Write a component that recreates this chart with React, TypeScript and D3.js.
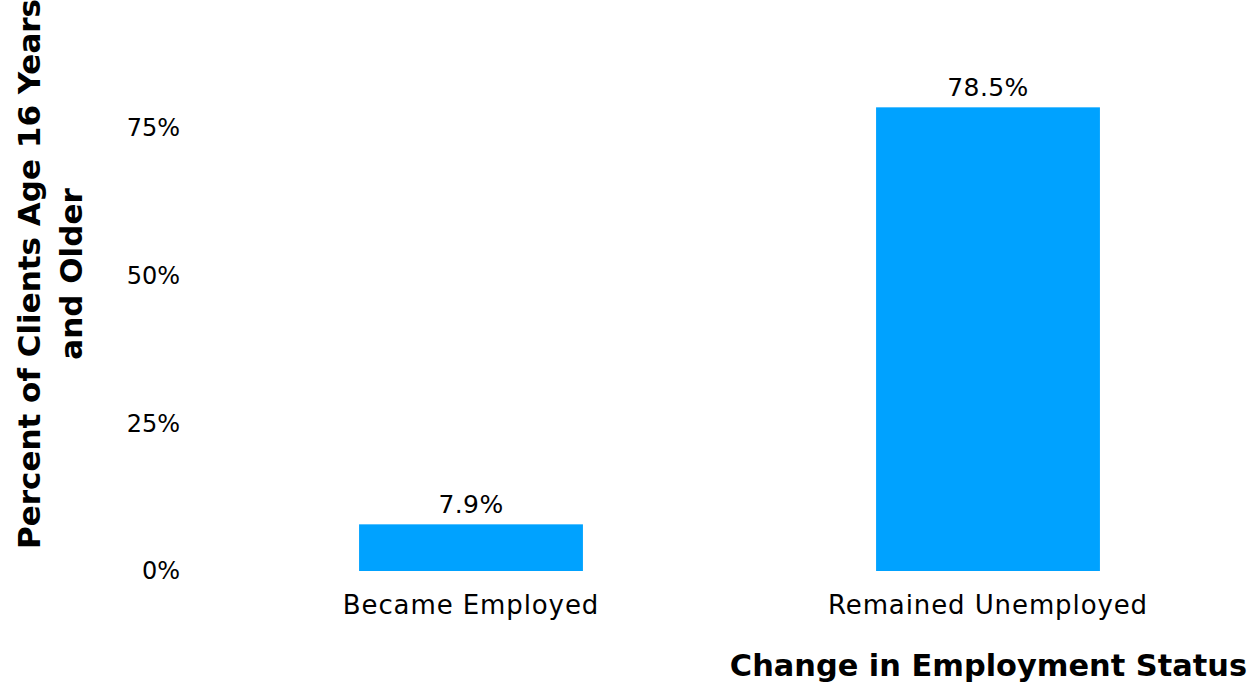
import React from "react";
import * as d3 from "d3";

const categories = ["Became Employed", "Remained Unemployed"];
const values = [7.9, 78.5];
const valueLabels = ["7.9%", "78.5%"];
const yTicks = [0, 25, 50, 75];
const yTickLabels = ["0%", "25%", "50%", "75%"];
const xTitle = "Change in Employment Status";
const yTitleLines = ["Percent of Clients Age 16 Years", "and Older"];

const W = 1249;
const H = 682;
const FONT = "'DejaVu Sans', Verdana, Tahoma, sans-serif";

export default function App() {
  const x = d3
    .scaleBand<string>()
    .domain(categories)
    .range([212.5, 1246.5])
    .paddingInner(0.567)
    .paddingOuter(0.2835);
  const y = d3.scaleLinear().domain([0, 75]).range([571, 128]);

  return (
    <svg
      width={W}
      height={H}
      style={{ position: "absolute", left: 0, top: 0, background: "#fff" }}
      fontFamily={FONT}
    >
      {categories.map((c, i) => (
        <rect
          key={c}
          x={x(c)}
          y={y(values[i])}
          width={x.bandwidth()}
          height={y(0) - y(values[i])}
          fill="#00A2FF"
        />
      ))}
      {categories.map((c, i) => (
        <text
          key={c + "v"}
          x={(x(c) as number) + x.bandwidth() / 2}
          y={y(values[i]) - 11}
          textAnchor="middle"
          fontSize={25}
          letterSpacing={0.4}
          fill="#000"
        >
          {valueLabels[i]}
        </text>
      ))}
      {categories.map((c) => (
        <text
          key={c + "c"}
          x={(x(c) as number) + x.bandwidth() / 2}
          y={614}
          textAnchor="middle"
          fontSize={26}
          letterSpacing={0.9}
          fill="#000"
        >
          {c}
        </text>
      ))}
      {yTicks.map((t, i) => (
        <text
          key={t}
          x={180}
          y={y(t)}
          dy="0.35em"
          textAnchor="end"
          fontSize={24}
          fill="#000"
        >
          {yTickLabels[i]}
        </text>
      ))}
      <text
        x={1247}
        y={676}
        textAnchor="end"
        fontSize={30.4}
        fontWeight="bold"
        fill="#000"
      >
        {xTitle}
      </text>
      <g transform="translate(0,274) rotate(-90)">
        {yTitleLines.map((l, i) => (
          <text
            key={l}
            x={0}
            y={40 + i * 42}
            textAnchor="middle"
            fontSize={31}
            fontWeight="bold"
            fill="#000"
          >
            {l}
          </text>
        ))}
      </g>
    </svg>
  );
}
